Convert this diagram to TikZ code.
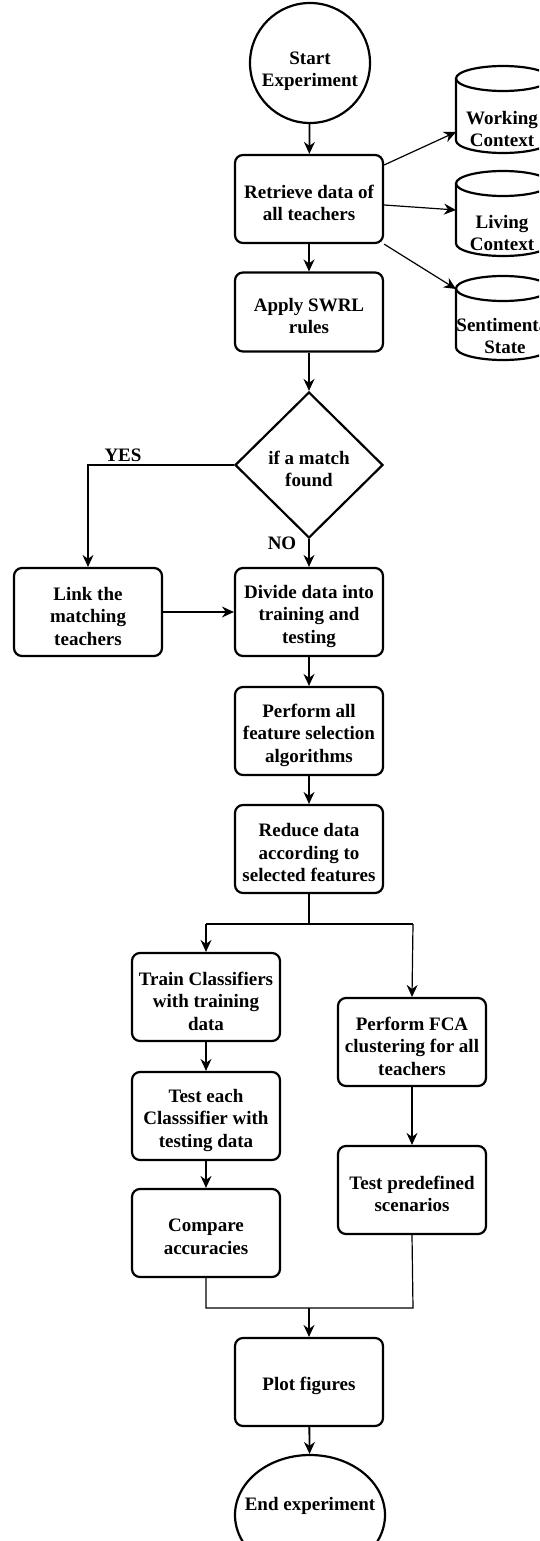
\documentclass[tikz,border=0pt]{standalone}
\usepackage{fontspec}
\setmainfont{Liberation Serif}
\usetikzlibrary{shapes.geometric,arrows.meta,calc}
\begin{document}
\begin{tikzpicture}[x=1pt,y=-1pt,
  txt/.style={font=\bfseries\fontsize{19}{22.5}\selectfont, align=center, inner sep=0pt},
  box/.style={draw, line width=2.2pt, rounded corners=8pt, minimum width=148pt, minimum height=88pt, inner sep=0pt,
              label={[txt, yshift=-4pt]center:{#1}}},
  term/.style={draw, line width=2.2pt, inner sep=0pt},
  tip/.style={-{Stealth[length=12pt,width=11pt,inset=4pt]}},
  thickarrow/.style={tip, line width=1.8pt},
  thinarrow/.style={tip, line width=1.2pt},
  thinline/.style={line width=1.2pt},
  cyl/.style={line width=2.2pt}]
\useasboundingbox (0,0) rectangle (539,1541);
\clip (0,0) rectangle (539,1541);

% terminals and boxes
\node[term, circle, minimum size=120pt,
      label={[txt, yshift=-8pt]center:{Start\\Experiment}}] (start) at (310,63) {};
\node[box={Retrieve data of\\all teachers}] (ret) at (309,199) {};
\node[box={Apply SWRL\\rules}, minimum height=79pt] (swrl) at (309,312) {};
\node[term, diamond, minimum width=148pt, minimum height=146pt,
      label={[txt, yshift=-4pt]center:{if a match\\found}}] (dia) at (309,465) {};
\node[box={Link the\\matching\\teachers}] (link) at (88,612) {};
\node[box={Divide data into\\training and\\testing}] (div) at (309,612) {};
\node[box={Perform all\\feature selection\\algorithms}] (perf) at (309,731) {};
\node[box={Reduce data\\according to\\selected features}] (red) at (309,849) {};
\node[box={Train Classifiers\\with training\\data}] (train) at (206,997) {};
\node[box={Test each\\Classsifier with\\testing data}] (test) at (206,1116) {};
\node[box={Compare\\accuracies}] (comp) at (206,1233) {};
\node[box={Perform FCA\\clustering for all\\teachers}] (fca) at (412,1042) {};
\node[box={Test predefined\\scenarios}] (pred) at (412,1190) {};
\node[box={Plot figures}] (plot) at (309,1382) {};
\node[term, ellipse, minimum width=150pt, minimum height=120pt,
      label={[txt, yshift=9pt]center:{End experiment}}] (end) at (310,1515) {};

% cylinders
\foreach \t/\b in {66/153, 171/256, 276/360}{
  \draw[cyl] (503,\t+12.5) ellipse [x radius=47pt, y radius=12.5pt];
  \draw[cyl] (456,\t+12.5) -- (456,\b-12.5) arc[start angle=180, end angle=360, x radius=47pt, y radius=12.5pt] -- (550,\t+12.5);
}
\node[txt] (wc) at (502,129) {Working\\Context};
\node[txt] (lc) at (502,233) {Living\\Context};
\node[txt] (ss) at (505,336) {Sentimental\\State};
\coordinate (wcin) at (456,132);
\coordinate (lcin) at (456,210);
\coordinate (ssin) at (456,289);

% labels
\node[txt] (yes) at (123,455) {YES};
\node[txt] (no) at (282,543) {NO};

% split / merge points
\coordinate (sp) at (309,924);
\coordinate (spl) at (206,924);
\coordinate (spr) at (413,924);
\coordinate (mg) at (309,1308);
\coordinate (mgl) at (206,1308);
\coordinate (mgr) at (413,1308);

% connectors
\draw[thickarrow] (start) -- (ret);
\draw[thickarrow] (ret) -- (swrl);
\draw[thickarrow] (swrl) -- (dia);
\draw[thinarrow] ([yshift=34pt]ret.east) -- (wcin);
\draw[thinarrow] ([yshift=-6pt]ret.east) -- (lcin);
\draw[thinarrow] (ret.south east) -- (ssin);
\draw[thinarrow] (dia.west) -| (link.north);
\draw[thickarrow] (dia.south) -- (div.north);
\draw[thinarrow] (link) -- (div);
\draw[thickarrow] (div) -- (perf);
\draw[thickarrow] (perf) -- (red);
\draw[thinline] (red.south) -- (sp);
\draw[thinline] (spl) -- (spr);
\draw[thinarrow] (spl) -- (train.north);
\draw[thinarrow] (spr) -- (fca.north);
\draw[thickarrow] (train) -- (test);
\draw[thickarrow] (test) -- (comp);
\draw[thinarrow] (fca) -- (pred);
\draw[thinline] (comp.south) -- (mgl) -- (mgr) -- (pred.south);
\draw[thickarrow] (mg) -- (plot.north);
\draw[thickarrow] (plot) -- (end);
\end{tikzpicture}
\end{document}
